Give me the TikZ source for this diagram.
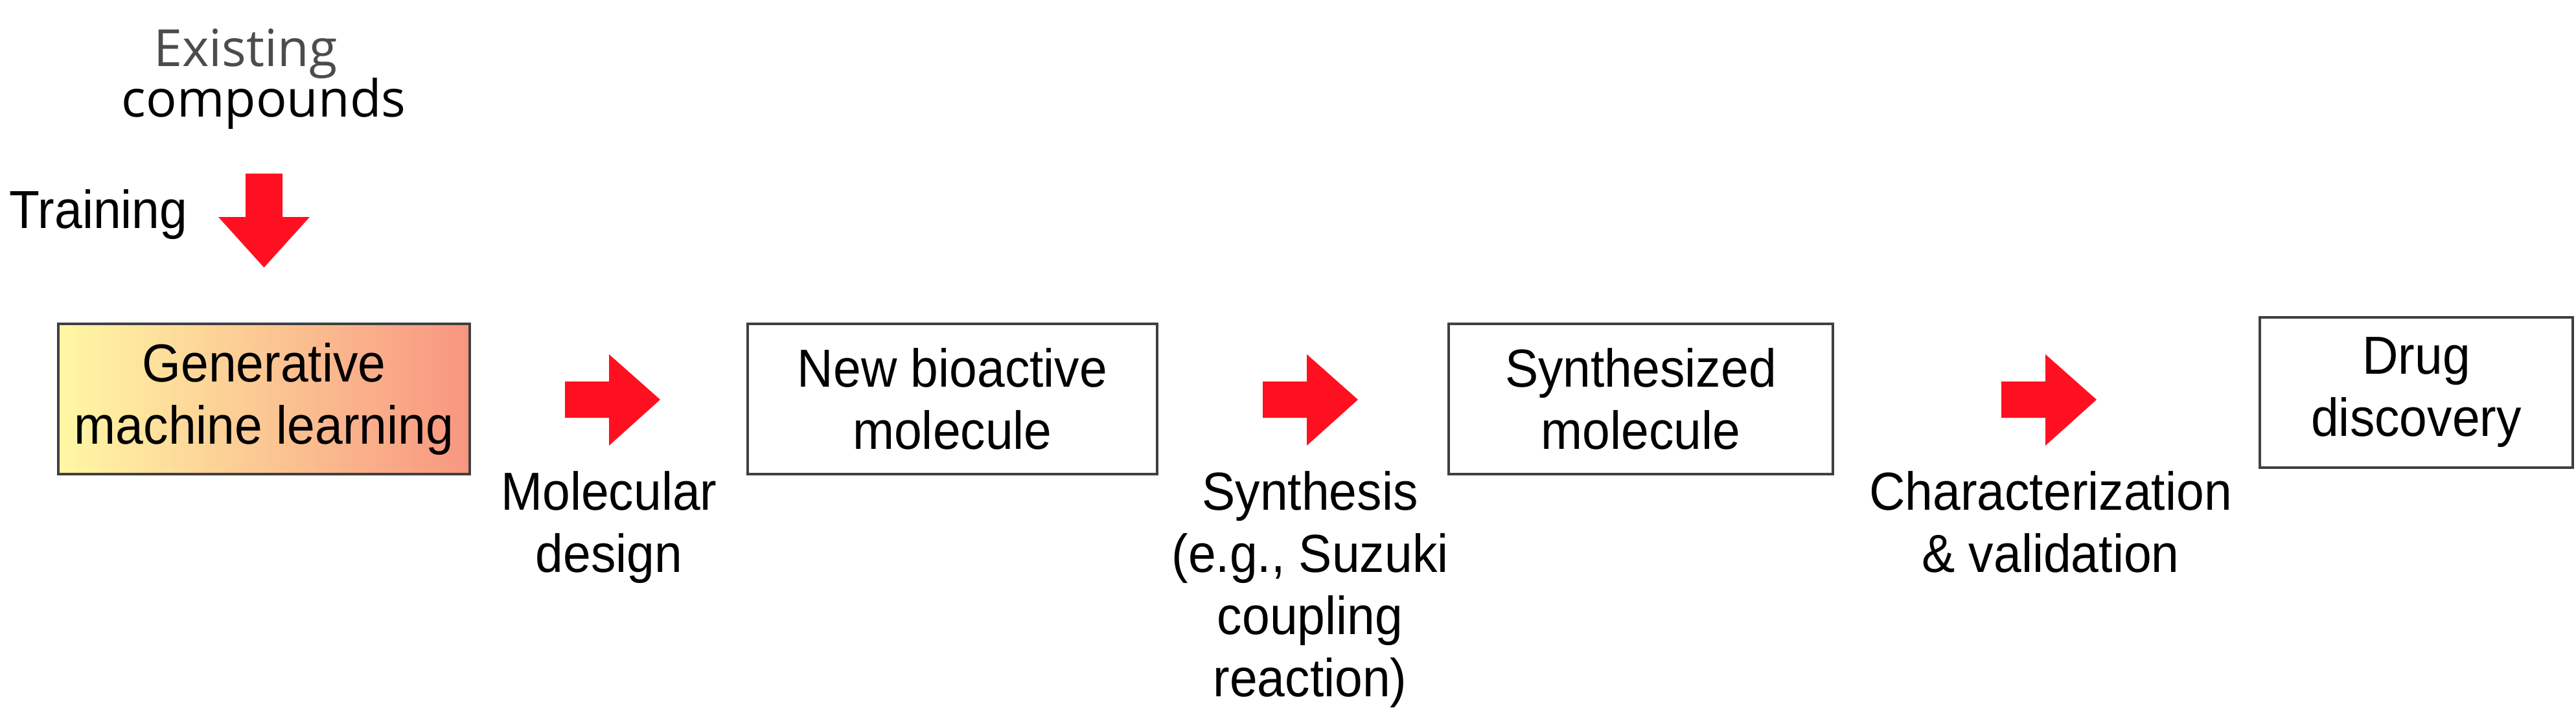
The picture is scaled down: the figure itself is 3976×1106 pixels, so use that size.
\documentclass[tikz,border=0pt]{standalone}
\usepackage{fontspec}
\setmainfont{Liberation Sans}[FakeStretch=0.93]
\newfontfamily\osans{Open Sans}
\begin{document}
\begin{tikzpicture}[x=0.01cm,y=-0.01cm,
  box/.style={draw=black!75,line width=1.1pt,minimum height=2.32cm,inner sep=0pt,align=center,font=\fontsize{23.5}{27.3}\selectfont},
  lbl/.style={align=center,inner sep=0pt,font=\fontsize{23.5}{27.3}\selectfont},
  redarrow/.style={fill={rgb,255:red,255;green,16;blue,32},draw=none}]
\useasboundingbox (0,0) rectangle (3976,1106);
\node[box,minimum width=6.35cm,left color={rgb,255:red,255;green,248;blue,165},right color={rgb,255:red,248;green,150;blue,128}] (gml) at (407.5,616) {Generative\\machine learning};
\node[box,minimum width=6.32cm] (nbm) at (1470,616) {New bioactive\\molecule};
\node[box,minimum width=5.93cm] (sm) at (2532.5,616) {Synthesized\\molecule};
\node[box,minimum width=4.83cm] (dd) at (3729.5,606) {Drug\\discovery};
\node[lbl,font=\osans\fontsize{22.5}{27.3}\selectfont,anchor=base,text=black!70] (ex) at (379,102) {Existing};
\node[lbl,font=\osans\fontsize{22.5}{27.3}\selectfont,anchor=base] (co) at (407,180) {compounds};
\node[lbl,anchor=base] (tr) at (152,352) {Training};
\node[lbl,anchor=north] (md1) at (940,727) {Molecular\\design};
\node[lbl,anchor=north] (sy) at (2022,727) {Synthesis\\(e.g., Suzuki\\coupling\\reaction)};
\node[lbl,anchor=north] (cv) at (3165,727) {Characterization\\\& validation};
% down arrow
\fill[redarrow] (379,268) -- (436,268) -- (436,335) -- (478,335) -- (407.5,413) -- (337,335) -- (379,335) -- cycle;
% right arrows
\foreach \a in {872,1949,3089}{
  \fill[redarrow] (\a,589) -- (\a+68,589) -- (\a+68,547) -- (\a+147,617) -- (\a+68,688) -- (\a+68,645) -- (\a,645) -- cycle;
}
\end{tikzpicture}
\end{document}
